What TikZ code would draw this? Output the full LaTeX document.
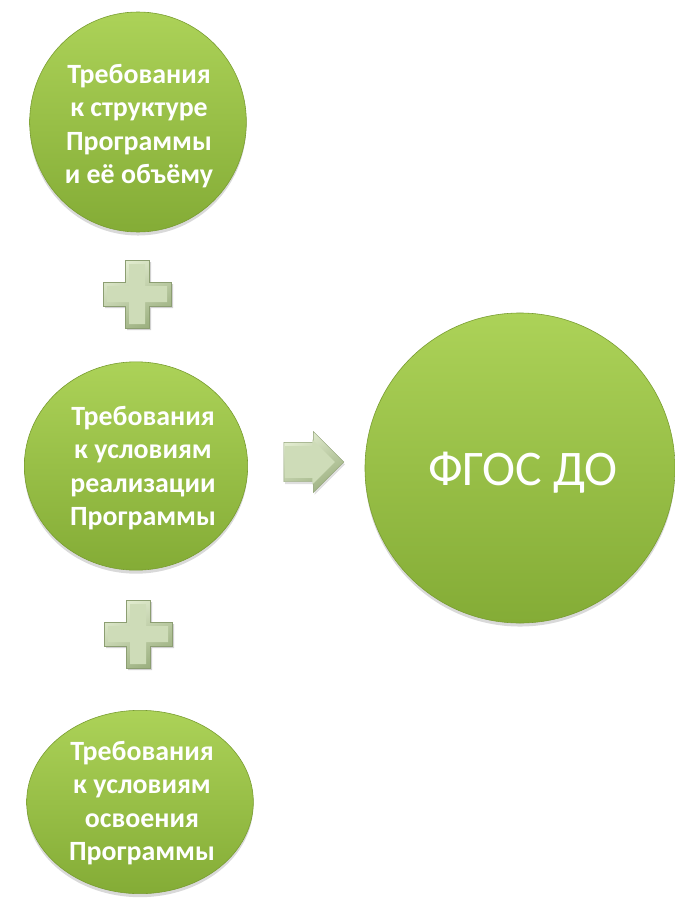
\documentclass[tikz,border=0pt]{standalone}
\usepackage{fontspec}
\setmainfont{Carlito}
\usetikzlibrary{shapes.geometric, shapes.arrows, shadows, calc}

\definecolor{bubbletop}{RGB}{172,210,88}
\definecolor{bubblebot}{RGB}{132,172,54}
\definecolor{bubbleedge}{RGB}{120,156,48}
\definecolor{signlight}{RGB}{226,236,208}
\definecolor{signmid}{RGB}{206,220,184}
\definecolor{signdark}{RGB}{156,176,128}
\definecolor{signedge}{RGB}{140,158,114}

\tikzset{
  bubble/.style={ellipse, draw=bubbleedge, line width=0.5pt,
    top color=bubbletop, bottom color=bubblebot,
    drop shadow={shadow xshift=0pt, shadow yshift=-3pt, opacity=0.3}},
  bubbletext/.style={text=white, align=center,
    font=\fontsize{23.8}{28.5}\selectfont\bfseries},
  signarrow/.style={single arrow, draw=signedge, line width=0.4pt,
    single arrow head extend=0.32cm, inner xsep=0pt, inner ysep=0.585cm,
    top color=signlight, bottom color=signdark, shading angle=30,
    drop shadow={shadow xshift=1pt, shadow yshift=-2pt, opacity=0.25}},
  plussign/.pic={
    % outer bevel
    \fill[black, opacity=0.18] (-10,-32) -- (14,-32) -- (14,-10) -- (36,-10) -- (36,14) -- (14,14) -- (14,36) -- (-10,36) -- (-10,14) -- (-32,14) -- (-32,-10) -- (-10,-10) -- cycle;
    \shade[draw=signedge, line width=0.4pt, top color=signlight, bottom color=signdark, shading angle=30]
      (-12,-34) -- (12,-34) -- (12,-12) -- (34,-12) -- (34,12) -- (12,12) -- (12,34) -- (-12,34) -- (-12,12) -- (-34,12) -- (-34,-12) -- (-12,-12) -- cycle;
    % inner face
    \fill[signmid] (-8,-30) -- (8,-30) -- (8,-8) -- (30,-8) -- (30,8) -- (8,8) -- (8,30) -- (-8,30) -- (-8,8) -- (-30,8) -- (-30,-8) -- (-8,-8) -- cycle;
  }
}

\begin{document}
\begin{tikzpicture}[x=0.03cm, y=-0.03cm]
    \useasboundingbox (0,0) rectangle (674,899);

    \node[bubble, minimum width=6.5cm, minimum height=6.6cm] (req1) at (138,122) {};
    \node[bubbletext] (req1txt) at (139,126) {Требования\\к структуре\\Программы\\и её объёму};

    \node[bubble, minimum width=6.7cm, minimum height=6.25cm] (req2) at (136,466) {};
    \node[bubbletext] (req2txt) at (143,468) {Требования\\к условиям\\реализации\\Программы};

    \node[bubble, minimum width=6.8cm, minimum height=5.5cm] (req3) at (140,802) {};
    \node[bubbletext] (req3txt) at (142,803) {Требования\\к условиям\\освоения\\Программы};

    \pic at ($(req1)!0.5!(req2)$) {plussign};
    \pic at ($(req2)!0.5!(req3)$) {plussign};

    \node[signarrow, minimum height=1.8cm] (arr) at (304,462) {};
    \node[single arrow, fill=signmid, single arrow head extend=0.2cm, inner xsep=0pt, inner ysep=0.47cm,
          minimum height=1.5cm] (arrface) at (302,462) {};

    \node[bubble, minimum size=9.3cm] (fgos) at (520,468) {};
    \node[text=white, font=\fontsize{42.5}{50}\selectfont] (fgostxt) at (523,473) {ФГОС ДО};
\end{tikzpicture}
\end{document}
